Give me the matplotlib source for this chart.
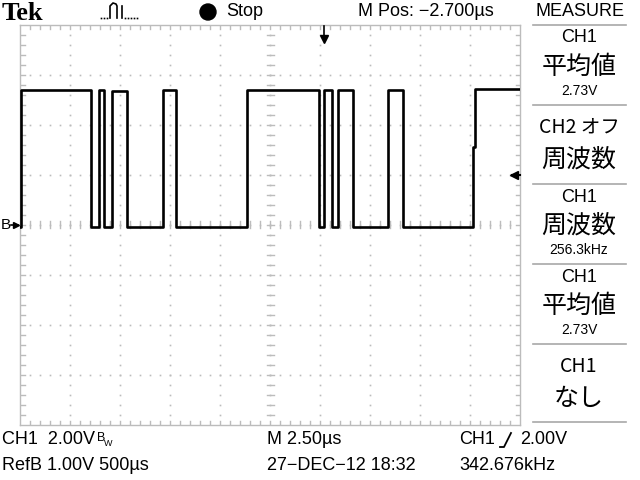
import numpy as np
import matplotlib.pyplot as plt
from matplotlib.patches import Circle

# CH1 trace: time of each edge (us, trigger = 0) and the level after it (V)
edge_t = [-15.2, -15.17, -11.65, -11.25, -11.0, -10.6, -9.85, -8.05, -7.4, -3.85,
          -0.25, 0.0, 0.4, 0.7, 1.45, 3.2, 3.95, 7.45, 7.55]
edge_v = [-0.08, 5.4, -0.1, 5.4, -0.1, 5.35, -0.1, 5.4, -0.08, 5.4,
          -0.1, 5.4, -0.1, 5.4, -0.1, 5.4, -0.1, 3.1, 5.45]
t_start, t_end = -15.2, 9.8      # screen span, M Pos -2.7us, 2.5us/div
volts_per_div = 2.0
trig_level = 2.0
refb_level = 0.0

measure_boxes = [
    ["CH1", "平均値", "2.73V"],
    ["CH2 オフ", "周波数", ""],
    ["CH1", "周波数", "256.3kHz"],
    ["CH1", "平均値", "2.73V"],
    ["CH1", "なし", ""],
]

narrow = ['Liberation Sans', 'DejaVu Sans']
cjk = ['Noto Sans CJK JP', 'DejaVu Sans']
grid_c = '#bcbcbc'

fig = plt.figure(figsize=(6.4, 4.8), dpi=100)
rect = [20/640, 55/480, 500/640, 400/480]

# graticule in division units
gax = fig.add_axes(rect)
gax.set_xlim(0, 10)
gax.set_ylim(0, 8)
gax.axis('off')
for x in [0, 10]:
    gax.plot([x, x], [0, 8], color=grid_c, lw=1, clip_on=False)
for y in [0, 8]:
    gax.plot([0, 10], [y, y], color=grid_c, lw=1, clip_on=False)
for xi in np.arange(0.2, 10, 0.2):
    gax.plot([xi, xi], [0, 0.09], color=grid_c, lw=1)
    gax.plot([xi, xi], [8, 7.91], color=grid_c, lw=1)
    gax.plot([xi, xi], [3.93, 4.07], color=grid_c, lw=1)
for yi in np.arange(0.2, 8, 0.2):
    gax.plot([0, 0.09], [yi, yi], color=grid_c, lw=1)
    gax.plot([10, 9.91], [yi, yi], color=grid_c, lw=1)
    gax.plot([4.93, 5.07], [yi, yi], color=grid_c, lw=1)
dots = np.arange(0.2, 10, 0.2)
for xd in range(1, 10):
    ys = np.arange(0.2, 8, 0.2)
    gax.plot(np.full_like(ys, xd), ys, 's', color=grid_c, ms=1.2, mew=0)
for yd in range(1, 8):
    gax.plot(dots, np.full_like(dots, yd), 's', color=grid_c, ms=1.2, mew=0)

# trace in time / volts
ax = fig.add_axes(rect)
ax.patch.set_visible(False)
ax.set_xlim(t_start, t_end)
ax.set_ylim(-4 * volts_per_div, 4 * volts_per_div)
ax.axis('off')
ax.step(edge_t + [t_end], edge_v + [edge_v[-1]], where='post', color='black', lw=1.9)

# trigger position, trigger level and RefB markers
ax.plot([0], [7.45], marker='v', color='black', ms=6, clip_on=False)
ax.plot([0, 0], [7.45, 7.95], color='black', lw=1.2, clip_on=False)
ax.plot([t_end - 0.3], [trig_level], marker='<', color='black', ms=6, clip_on=False)
ax.plot([t_end - 0.4, t_end], [trig_level, trig_level], color='black', lw=1.5, clip_on=False)
ax.plot([t_start - 0.2], [refb_level], marker='>', color='black', ms=5, clip_on=False)
ax.plot([t_start - 0.45, t_start - 0.1], [refb_level, refb_level], color='black', lw=1.2, clip_on=False)

# overlay in screen pixels for the readouts
ov = fig.add_axes([0, 0, 1, 1])
ov.patch.set_visible(False)
ov.set_xlim(0, 640)
ov.set_ylim(480, 0)
ov.axis('off')

ov.text(2, 13, "Tek", family=['Liberation Serif', 'DejaVu Serif'], weight='bold',
        fontsize=19, va='center', ha='left')
ov.plot([110, 110, 113, 116, 117, 117], [18, 6, 3, 4, 6, 18], color='black', lw=1.2)
ov.plot([122, 122], [6, 18], color='black', lw=1.2)
px = list(range(101, 109, 3)) + list(range(125, 138, 3))
ov.plot(px, [18] * len(px), 's', color='black', ms=1.2, mew=0)
ov.add_patch(Circle((208, 12), 8, color='black'))
ov.text(226, 12, "Stop", family=narrow, fontsize=13, va='center')
ov.text(358, 12, "M Pos: \u22122.700\u00b5s", family=narrow, fontsize=13, va='center')
ov.text(580, 12, "MEASURE", family=narrow, fontsize=13, va='center', ha='center')
ov.text(1, 225, "B", family=narrow, fontsize=11, va='center')

# measure panel
sep_y = [25, 105, 184, 264, 344, 422]
for y in sep_y:
    ov.plot([533, 626], [y, y], color='#a8a8a8', lw=1.2)
for i, (top, mid, bot) in enumerate(measure_boxes):
    y0 = sep_y[i]
    if bot:
        ov.text(579, y0 + 13, top, family=narrow, fontsize=13, va='center', ha='center')
        ov.text(579, y0 + 42, mid, family=cjk, fontsize=18, va='center', ha='center')
        ov.text(579, y0 + 66, bot, family=narrow, fontsize=10, va='center', ha='center')
    else:
        ov.text(579, y0 + 22, top, family=cjk, fontsize=14, va='center', ha='center')
        ov.text(579, y0 + 55, mid, family=cjk, fontsize=18, va='center', ha='center')

# bottom readouts
ov.text(2, 440, "CH1  2.00V", family=narrow, fontsize=13, va='center')
ov.text(97, 438, "B", family=narrow, fontsize=9, va='center')
ov.text(104, 444, "W", family=narrow, fontsize=6.5, va='center')
ov.text(267, 440, "M 2.50\u00b5s", family=narrow, fontsize=13, va='center')
ov.text(459, 440, "CH1", family=narrow, fontsize=13, va='center')
ov.plot([500, 504, 511], [447, 447, 433], color='black', lw=1.3)
ov.text(520, 440, "2.00V", family=narrow, fontsize=13, va='center')
ov.text(2, 465, "RefB 1.00V 500\u00b5s", family=narrow, fontsize=13, va='center')
ov.text(267, 465, "27\u2212DEC\u221212 18:32", family=narrow, fontsize=13, va='center')
ov.text(459, 465, "342.676kHz", family=narrow, fontsize=13, va='center')

fig.savefig('out.png', dpi=100)
